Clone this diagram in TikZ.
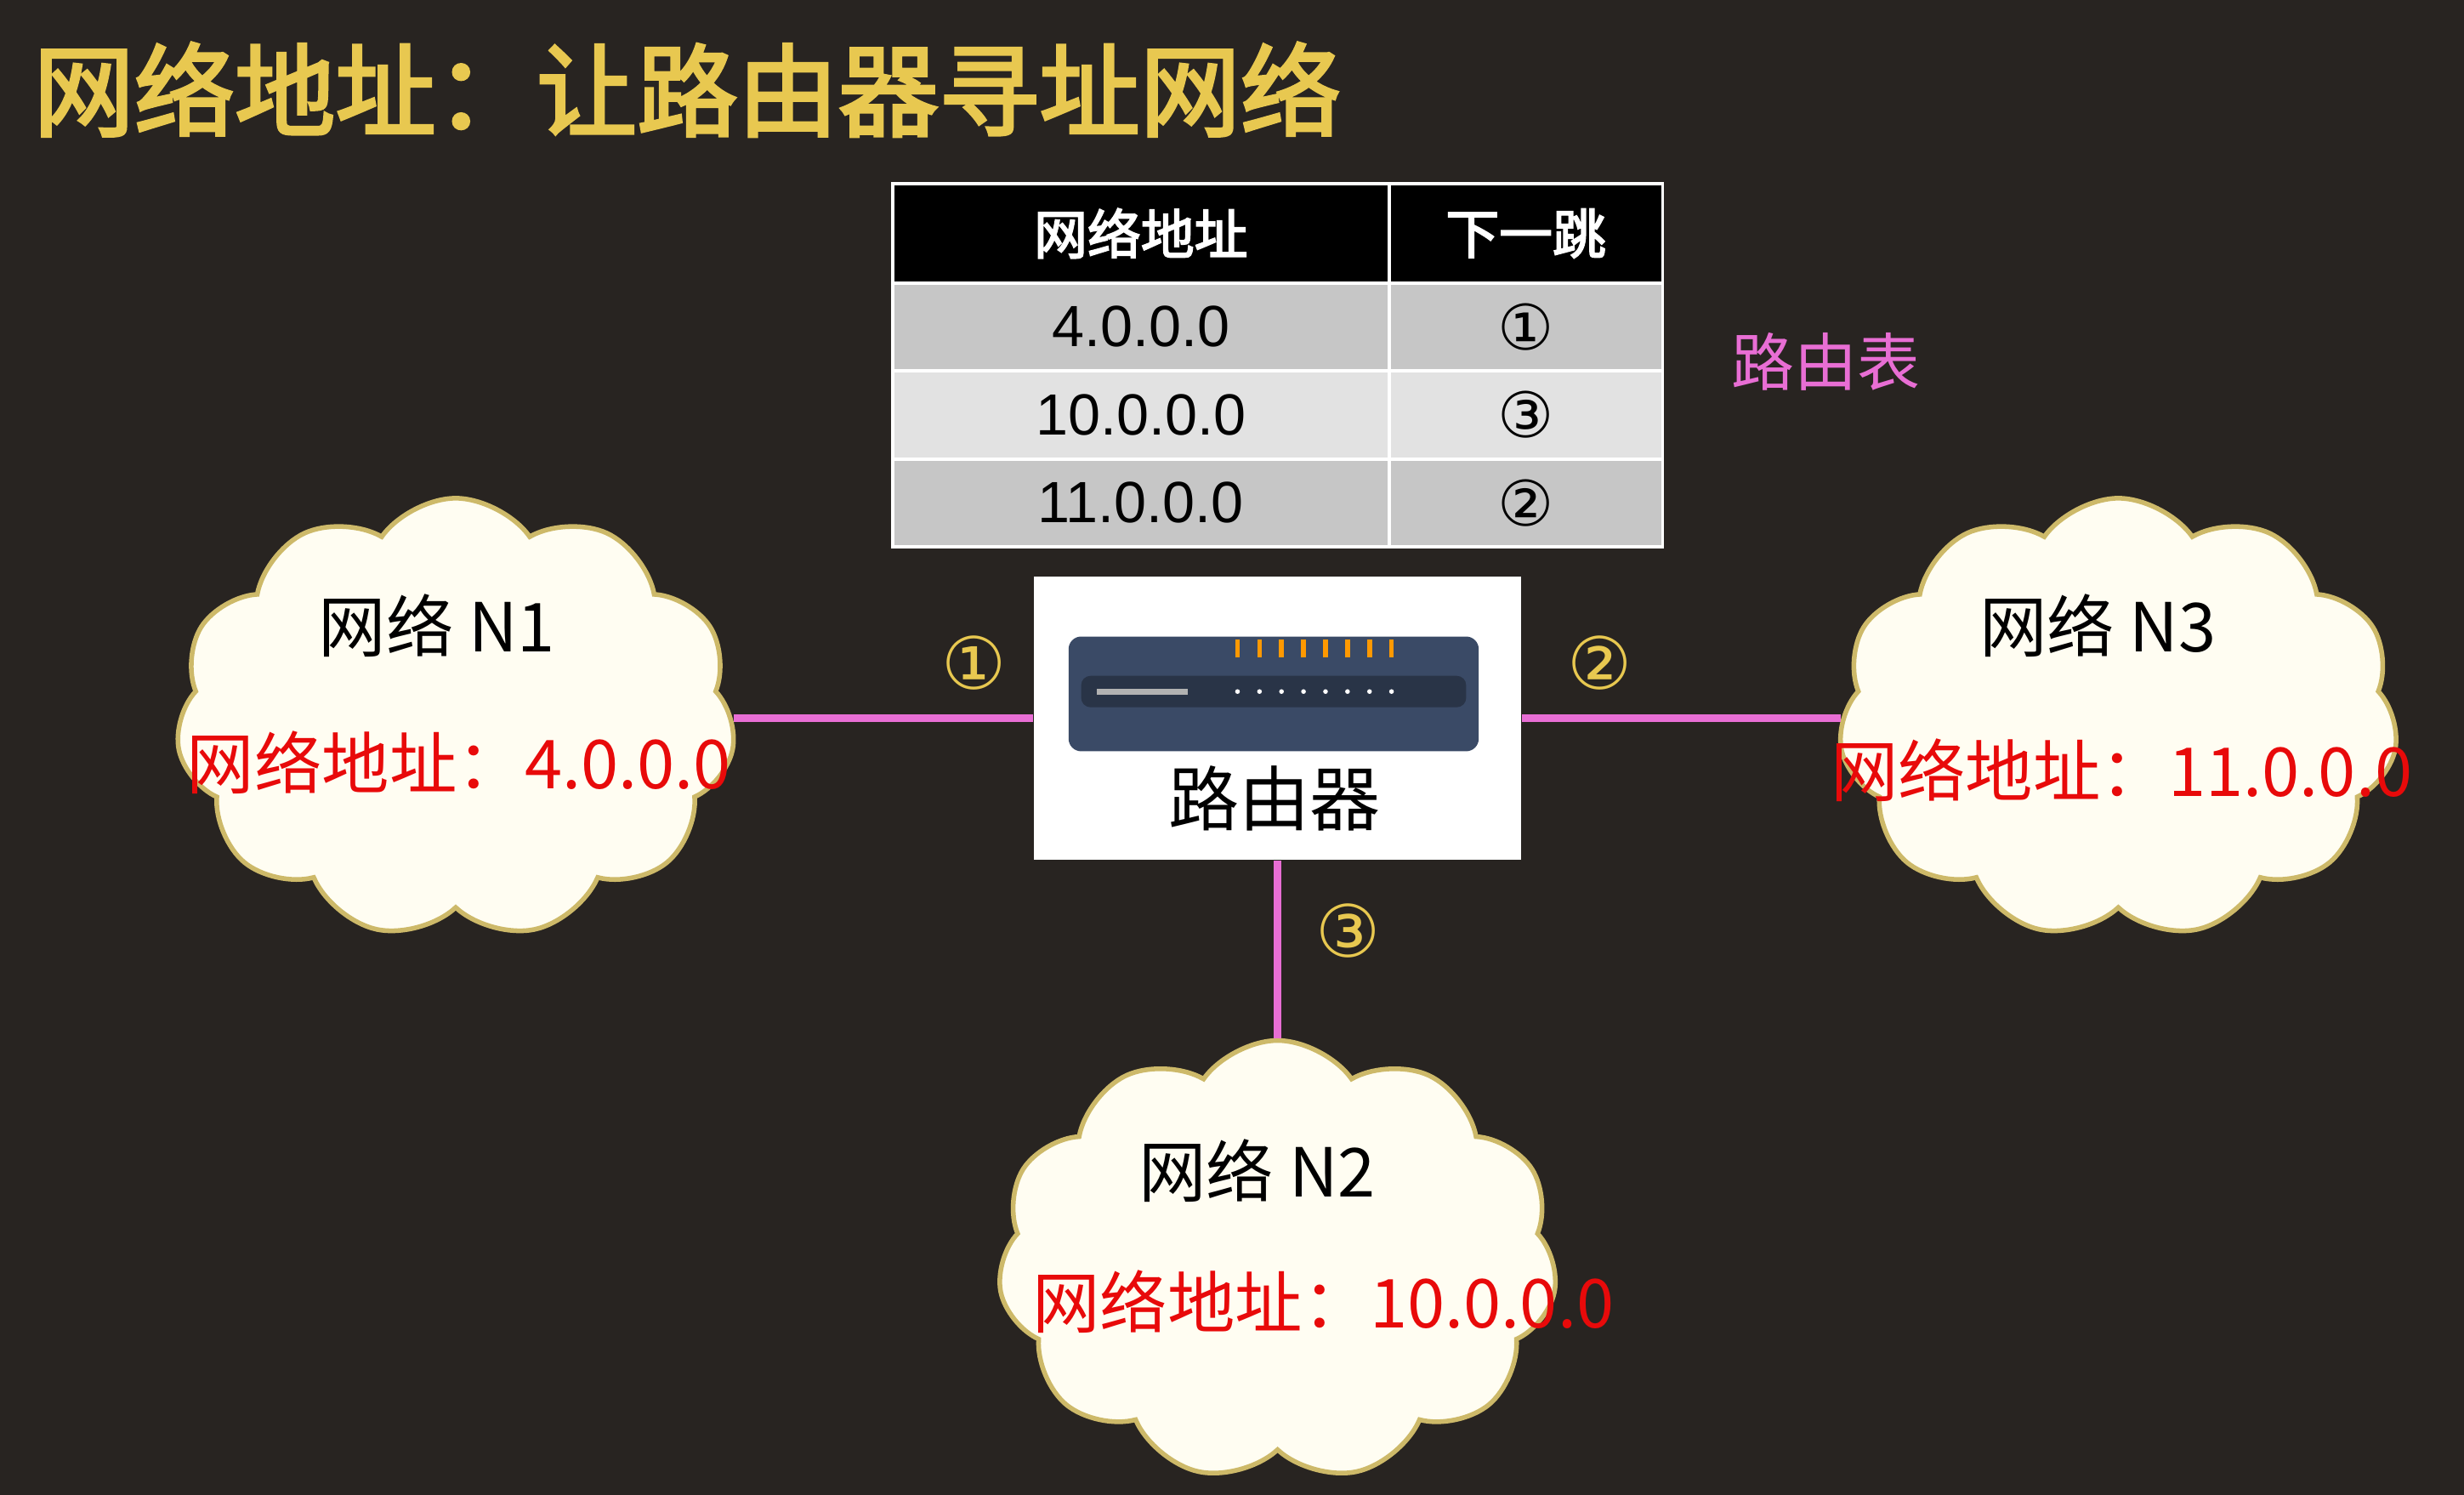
\documentclass[tikz,border=0pt]{standalone}
\usepackage{fontspec}
\setmainfont{Liberation Sans}
\newfontfamily\cjk{Noto Sans CJK SC}
\newfontfamily\cjkbold{Noto Sans CJK SC}[AutoFakeBold=3]
\newfontfamily\sym{DejaVu Sans}
\usetikzlibrary{shapes.symbols}
\definecolor{bgdark}{RGB}{40,36,33}
\definecolor{titlegold}{RGB}{232,200,80}
\definecolor{linkpink}{RGB}{232,110,212}
\definecolor{cloudfill}{RGB}{255,253,242}
\definecolor{cloudedge}{RGB}{205,185,105}
\definecolor{addrred}{RGB}{232,10,10}
\definecolor{rowgray}{RGB}{198,198,198}
\definecolor{rowlight}{RGB}{226,226,226}
\definecolor{routerblue}{RGB}{58,74,102}

\tikzset{every picture/.style={line width=0.75pt}}
\tikzset{
  netcloud/.style={cloud, cloud puffs=11, cloud puff arc=110, aspect=1.25, draw=cloudedge, line width=1.5pt, fill=cloudfill, minimum width=178pt, minimum height=140pt},
  cell/.style={draw=white, line width=1pt, inner sep=0pt, font=\fontsize{18.5}{20}\selectfont},
  headcell/.style={cell, fill=black, text=white, font=\cjkbold\bfseries\fontsize{17}{20}\selectfont},
  link/.style={draw=linkpink, line width=2.5pt},
  portnum/.style={text=titlegold, font=\sym\fontsize{23}{25}\selectfont},
  netname/.style={font=\cjk\fontsize{21.5}{24}\selectfont},
  netaddr/.style={text=addrred, font=\cjk\fontsize{21.5}{24}\selectfont}
}

\begin{document}
\begin{tikzpicture}[x=0.5pt,y=0.5pt,yscale=-1,xscale=1]
% background
\fill [bgdark] (0,0) rectangle (1568,951);
\useasboundingbox (0,0) rectangle (1568,951);

% Title
\node [anchor=west, text=titlegold, font=\cjkbold\bfseries\fontsize{32}{36}\selectfont] (title) at (14,57) {网络地址：让路由器寻址网络};

% Routing table
\node [headcell, minimum width=158pt, minimum height=31.5pt] (h1) at (726,148.5) {网络地址};
\node [headcell, minimum width=87pt, minimum height=31.5pt] (h2) at (971,148.5) {下一跳};
\node [cell, fill=rowgray, minimum width=158pt, minimum height=28pt] (r1a) at (726,208) {4.0.0.0};
\node [cell, fill=rowgray, minimum width=87pt, minimum height=28pt, font=\sym\fontsize{20}{22}\selectfont] (r1b) at (971,208) {①};
\node [cell, fill=rowlight, minimum width=158pt, minimum height=28pt] (r2a) at (726,264) {10.0.0.0};
\node [cell, fill=rowlight, minimum width=87pt, minimum height=28pt, font=\sym\fontsize{20}{22}\selectfont] (r2b) at (971,264) {③};
\node [cell, fill=rowgray, minimum width=158pt, minimum height=28pt] (r3a) at (726,320) {11.0.0.0};
\node [cell, fill=rowgray, minimum width=87pt, minimum height=28pt, font=\sym\fontsize{20}{22}\selectfont] (r3b) at (971,320) {②};
\node [text=linkpink, font=\cjk\fontsize{20}{22}\selectfont] (tablelabel) at (1162,230) {路由表};

% Clouds
\node [netcloud] (n1) at (290,457) {};
\node [netcloud] (n3) at (1348,457) {};
\node [netcloud] (n2) at (813,802) {};

% Router
\node [fill=white, minimum width=155pt, minimum height=90pt, inner sep=0pt] (router) at (813,457) {};
\fill [routerblue, rounded corners=4pt] (680,405) rectangle (941,478);
\fill [routerblue!70!black, rounded corners=3pt] (688,430) rectangle (933,450);
\fill [gray!60] (698,438) rectangle (756,442);
\foreach \i in {0,...,7} {
  \fill [orange!80!yellow] (786+\i*14,407) rectangle (789+\i*14,418);
  \fill [white] (787.5+\i*14,440) circle (1.5);
}
\node [font=\cjk\fontsize{22.5}{24}\selectfont] (routerlabel) at (811,508) {路由器};

% Links
\draw [link] (n1.east |- router.west) -- (router.west);
\draw [link] (router.east) -- (n3.west |- router.east);
\draw [link] (router.south) -- (n2.north);

% Port numbers
\node [portnum] (p1) at (620,422) {①};
\node [portnum] (p2) at (1018,422) {②};
\node [portnum] (p3) at (858,592) {③};

% Cloud texts
\node [netname] (n1name) at (278,398) {网络 N1};
\node [netaddr] (n1addr) at (292,485) {网络地址：4.0.0.0};
\node [netname] (n3name) at (1335,398) {网络 N3};
\node [netaddr] (n3addr) at (1350,490) {网络地址：11.0.0.0};
\node [netname] (n2name) at (800,745) {网络 N2};
\node [netaddr] (n2addr) at (842,828) {网络地址：10.0.0.0};
\end{tikzpicture}
\end{document}
